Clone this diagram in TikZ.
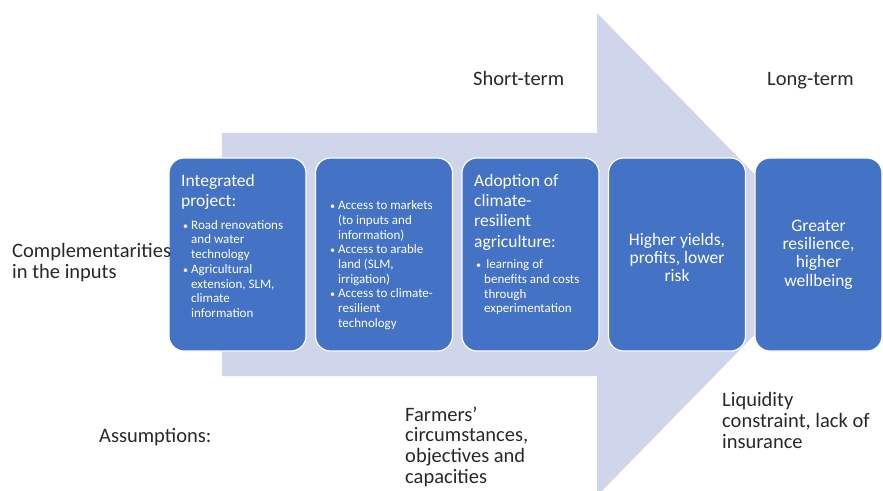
\documentclass[tikz,border=0pt]{standalone}
\usepackage{fontspec}
\setmainfont{Carlito}
\usetikzlibrary{positioning,calc}

\definecolor{stageblue}{RGB}{68,114,196}
\definecolor{flowlilac}{RGB}{207,213,234}
\definecolor{inkgray}{RGB}{40,40,40}

% bullet and hanging indent for the lists inside the boxes
\newcommand{\bul}{\makebox[8pt][l]{\fontsize{10}{10}\selectfont\textbullet}}
\newcommand{\ind}{\hspace*{8pt}}

\begin{document}
\begin{tikzpicture}[
    x=1pt, y=-1pt,
    stagebox/.style={
        draw=white, line width=1.2pt,
        fill=stageblue,
        rounded corners=15pt,
        minimum width=137pt,
        minimum height=193pt,
        inner sep=0pt, outer sep=0pt
    },
    boxhead/.style={
        text=white, align=left, inner sep=0pt,
        font=\fontsize{17.5}{20.3}\selectfont
    },
    boxlist/.style={
        text=white, align=left, inner sep=0pt,
        font=\fontsize{13}{14.7}\selectfont
    },
    boxmain/.style={
        text=white, align=center, inner sep=0pt,
        font=\fontsize{17.5}{18.3}\selectfont
    },
    sidetext/.style={
        text=inkgray, align=left, inner sep=0pt,
        font=\fontsize{20.5}{20.7}\selectfont
    }
]

\useasboundingbox (0,0) rectangle (883,490);

% Big arrow behind the stages
\begin{scope}
\clip (0,0) rectangle (883,490);
\fill[flowlilac] (222,133) -- (597,133) -- (597,13) -- (833,254.5)
    -- (597,496) -- (597,376) -- (222,376) -- cycle;
\end{scope}

% Stages
\node[stagebox] (proj) at (237.5,254.5) {};
\node[stagebox, right=9.5pt of proj] (access) {};
\node[stagebox, right=9.5pt of access] (adopt) {};
\node[stagebox, right=9.5pt of adopt] (yields) {};
\node[stagebox, minimum width=127pt, right=9.5pt of yields] (wellb) {};

% Text in the stages
\node[boxhead, below right=16pt and 12pt of proj.north west] (projhead) {Integrated\\project:};
\node[boxlist, below right=62pt and 14pt of proj.north west] (projlist) {%
\bul Road renovations\\\ind and water\\\ind technology\\
\bul Agricultural\\\ind extension, SLM,\\\ind climate\\\ind information};

\node[boxlist, below right=42.5pt and 14.5pt of access.north west] (accesslist) {%
\bul Access to markets\\\ind (to inputs and\\\ind information)\\
\bul Access to arable\\\ind land (SLM,\\\ind irrigation)\\
\bul Access to climate-\\\ind resilient\\\ind technology};

\node[boxhead, below right=16pt and 12pt of adopt.north west] (adopthead) {Adoption of\\climate-\\resilient\\agriculture:};
\node[boxlist, below right=101.5pt and 14pt of adopt.north west] (adoptlist) {%
\bul\,learning of\\\ind benefits and costs\\\ind through\\\ind experimentation};

\node[boxmain] (yieldstext) at ($(yields.center)+(0,3)$) {Higher yields,\\profits, lower\\risk};
\node[boxmain] (wellbtext) at (wellb.center) {Greater\\resilience,\\higher\\wellbeing};

% Side labels
\node[sidetext, anchor=base west] (short) at (473,85) {Short-term};
\node[sidetext, anchor=base west] (long) at (767,85) {Long-term};
\node[sidetext, anchor=north west] (compl) at (12,243.5) {Complementarities\\in the inputs};
\node[sidetext, anchor=base west] (assum) at (99,442) {Assumptions:};
\node[sidetext, anchor=north west] (farmers) at (405,406.5) {Farmers’\\circumstances,\\objectives and\\capacities};
\node[sidetext, anchor=north west] (liquid) at (722,392.5) {Liquidity\\constraint, lack of\\insurance};

\end{tikzpicture}
\end{document}
